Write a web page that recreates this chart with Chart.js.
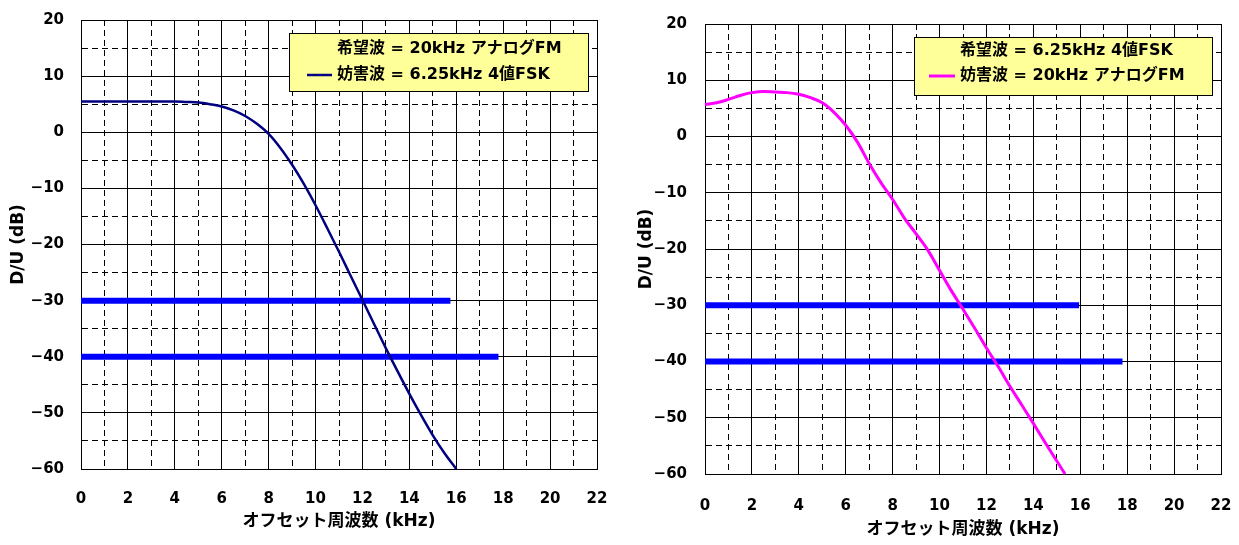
<!DOCTYPE html>
<html><head><meta charset="utf-8">
<script src="https://cdn.jsdelivr.net/npm/chart.js@4/dist/chart.umd.min.js"></script>
<style>
html,body{margin:0;padding:0;background:#fff;}
#wrap{position:relative;width:1239px;height:545px;overflow:hidden;}
canvas{position:absolute;top:0;}
</style></head><body>
<div id="wrap">
<canvas id="c1" width="620" height="545" style="left:0"></canvas>
<canvas id="c2" width="619" height="545" style="left:620px"></canvas>
</div>
<script>
// ---- data ----
const X_TICKS = [0, 2, 4, 6, 8, 10, 12, 14, 16, 18, 20, 22];
const Y_TICKS = [20, 10, 0, -10, -20, -30, -40, -50, -60];
const X_TITLE = 'オフセット周波数 (kHz)';
const Y_TITLE = 'D/U (dB)';

// left chart: desired 20kHz analog FM, interferer 6.25kHz 4-level FSK
const leftDesired = '希望波 = 20kHz アナログFM';
const leftInterferer = '妨害波 = 6.25kHz 4値FSK';
const leftFreq = [0, 1, 2, 3, 4, 4.5, 5, 5.5, 6, 6.5, 7, 7.5, 8, 8.5, 9, 9.5, 10, 10.5, 11, 11.5, 12, 12.5, 13, 13.5, 14, 14.5, 15, 15.5, 16];
const leftDU   = [5.5, 5.5, 5.5, 5.5, 5.5, 5.4, 5.3, 5.0, 4.6, 3.9, 2.9, 1.5, -0.3, -2.8, -5.8, -9.2, -13.0, -17.1, -21.3, -25.6, -29.9, -34.2, -38.5, -42.6, -46.6, -50.4, -54.0, -57.2, -60];
const leftLimit30End = 15.75;
const leftLimit40End = 17.8;

// right chart: desired 6.25kHz 4-level FSK, interferer 20kHz analog FM
const rightDesired = '希望波 = 6.25kHz 4値FSK';
const rightInterferer = '妨害波 = 20kHz アナログFM';
const rightFreq = [0, 0.5, 1, 1.5, 2, 2.5, 3, 3.5, 4, 4.5, 5, 5.5, 6, 6.5, 7, 7.5, 8, 8.5, 9, 9.5, 10, 10.5, 11, 11.5, 12, 12.5, 13, 13.5, 14, 14.5, 15, 15.35];
const rightDU   = [5.7, 6.0, 6.6, 7.3, 7.8, 8.0, 7.9, 7.8, 7.5, 6.9, 6.0, 4.3, 2.0, -1.0, -4.8, -8.2, -11.2, -14.5, -17.3, -20.2, -23.8, -27.4, -30.7, -34.1, -37.6, -40.9, -44.4, -47.7, -51.0, -54.4, -57.7, -60];
const rightLimit30End = 15.95;
const rightLimit40End = 17.8;

const FONT = "'DejaVu Sans', 'Noto Sans CJK JP', sans-serif";

function pts(xs, ys) { return xs.map((x, i) => ({x, y: ys[i]})); }

const framePlugin = {
  id: 'frame',
  beforeDatasetsDraw(chart) {
    const {ctx, chartArea: a} = chart;
    ctx.save();
    ctx.strokeStyle = '#000';
    ctx.lineWidth = 1;
    ctx.strokeRect(Math.round(a.left) + 0.5, Math.round(a.top) + 0.5, Math.round(a.right - a.left), Math.round(a.bottom - a.top));
    ctx.restore();
  }
};

const legendBoxPlugin = {
  id: 'legendBox',
  afterDatasetsDraw(chart, args, o) {
    const {ctx} = chart;
    ctx.save();
    ctx.fillStyle = '#FFFF99';
    ctx.fillRect(o.x, o.y, o.w, o.h);
    ctx.strokeStyle = '#000';
    ctx.lineWidth = 1;
    ctx.strokeRect(o.x + 0.5, o.y + 0.5, o.w, o.h);
    ctx.font = 'bold 16px ' + FONT;
    ctx.textBaseline = 'middle';
    ctx.fillStyle = '#000';
    const rows = chart.data.datasets.filter(d => d.legendRow !== undefined);
    rows.forEach(d => {
      const cy = o.y + o.rowY[d.legendRow];
      if (d.borderColor && d.borderColor !== 'transparent') {
        ctx.strokeStyle = d.borderColor;
        ctx.lineWidth = d.borderWidth;
        ctx.beginPath();
        ctx.moveTo(o.x + o.lineX0, cy);
        ctx.lineTo(o.x + o.lineX1, cy);
        ctx.stroke();
      }
      ctx.fillText(d.label, o.x + o.textX, cy);
    });
    ctx.restore();
  }
};

function gridDash(ctx) {
  if (!ctx.tick) return [];
  return (ctx.scale.axis === 'x' ? ctx.tick.value % 2 !== 0 : ctx.tick.value % 10 !== 0) ? [6, 4] : [];
}

function makeChart(id, cfg) {
  const chart = new Chart(document.getElementById(id), {
    type: 'line',
    data: {
      datasets: [
        {label: cfg.desired, data: [], borderColor: 'transparent', borderWidth: 0, legendRow: 0, pointRadius: 0},
        {label: cfg.interferer, data: pts(cfg.freq, cfg.du), borderColor: cfg.color, borderWidth: cfg.lw,
         pointRadius: 0, cubicInterpolationMode: 'monotone', legendRow: 1, fill: false},
        {label: 'limit30', data: pts([0, cfg.l30], [-30, -30]), borderColor: '#0000FF', borderWidth: 6, pointRadius: 0},
        {label: 'limit40', data: pts([0, cfg.l40], [-40, -40]), borderColor: '#0000FF', borderWidth: 6, pointRadius: 0}
      ]
    },
    options: {
      responsive: false,
      animation: false,
      clip: false,
      layout: {padding: cfg.pad, autoPadding: false},
      plugins: {
        legend: {display: false},
        tooltip: {enabled: false},
        legendBox: cfg.box
      },
      scales: {
        x: {
          type: 'linear', min: 0, max: 22,
          afterFit(s) { s.height = cfg.xH; s.paddingLeft = 0; s.paddingRight = 0; },
          ticks: {stepSize: 1, autoSkip: false, maxRotation: 0, padding: cfg.xTickPad, color: '#000',
            font: {family: FONT, size: 15, weight: 'bold'},
            callback: v => X_TICKS.includes(v) ? String(v) : ''},
          grid: {color: '#000', lineWidth: 1, drawTicks: false},
          border: {display: true, color: '#000', dash: gridDash},
          title: {display: true, text: X_TITLE, color: '#000', padding: {top: 0, bottom: cfg.xTitlePad},
            font: {family: FONT, size: 17, weight: 'bold'}}
        },
        y: {
          type: 'linear', min: -60, max: 20,
          afterFit(s) { s.width = cfg.yW; s.paddingTop = 0; s.paddingBottom = 0; },
          ticks: {stepSize: 5, autoSkip: false, padding: cfg.yTickPad, color: '#000',
            font: {family: FONT, size: 15, weight: 'bold'},
            callback: v => Y_TICKS.includes(v) ? String(v).replace('-', '\u2212') : ''},
          grid: {color: '#000', lineWidth: 1, drawTicks: false},
          border: {display: true, color: '#000', dash: gridDash},
          title: {display: true, text: Y_TITLE, color: '#000', padding: {top: cfg.yTitlePad, bottom: 0},
            font: {family: FONT, size: 17, weight: 'bold'}}
        }
      }
    },
    plugins: [framePlugin, legendBoxPlugin]
  });
  // adjust so that the plot area lands where the reference has it
  for (let i = 0; i < 3; i++) {
    const a = chart.chartArea;
    const p = chart.options.layout.padding;
    p.top = Math.max(0, p.top + (cfg.area.top - a.top));
    p.right = Math.max(0, p.right + (a.right - cfg.area.right));
    cfg.yW += cfg.area.left - a.left;
    cfg.xH += a.bottom - cfg.area.bottom;
    chart.update();
  }
  return chart;
}

makeChart('c1', {
  desired: leftDesired, interferer: leftInterferer, freq: leftFreq, du: leftDU,
  color: '#000080', lw: 2.5, l30: leftLimit30End, l40: leftLimit40End,
  pad: {left: 0, top: 20, right: 22, bottom: 0}, xH: 76, yW: 81,
  area: {left: 81, top: 20, right: 597, bottom: 469},
  xTickPad: 21, yTickPad: 17, xTitlePad: 13, yTitlePad: 8,
  box: {x: 289, y: 33, w: 299, h: 58, rowY: [16, 42], lineX0: 18, lineX1: 43, textX: 48}
});
makeChart('c2', {
  desired: rightDesired, interferer: rightInterferer, freq: rightFreq, du: rightDU,
  color: '#FF00FF', lw: 3, l30: rightLimit30End, l40: rightLimit40End,
  pad: {left: 0, top: 24, right: 18, bottom: 0}, xH: 71, yW: 85,
  area: {left: 85, top: 24, right: 601, bottom: 474},
  xTickPad: 23, yTickPad: 18, xTitlePad: 5, yTitlePad: 16,
  box: {x: 294, y: 37, w: 298, h: 58, rowY: [14, 39], lineX0: 15, lineX1: 41, textX: 46}
});
</script>
</body></html>
